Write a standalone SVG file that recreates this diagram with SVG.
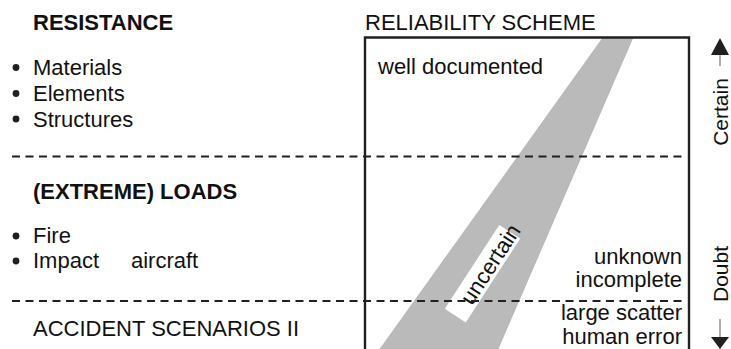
<svg xmlns="http://www.w3.org/2000/svg" width="731" height="349" viewBox="0 0 731 349">
  <style>
    text { font-family: "Liberation Sans", Arial, sans-serif; font-size: 22px; fill: #111; }
    .bold { font-weight: bold; }
    .end { text-anchor: end; }
    .axis { font-size: 21px; text-anchor: middle; }
    .bullet { fill: #231f20; }
    .divider { stroke: #231f20; stroke-width: 2; stroke-dasharray: 8 5.5; fill: none; }
    .frame { stroke: #231f20; stroke-width: 2.4; fill: none; }
    .band { fill: #bababa; stroke: #aaaaaa; stroke-width: 0.6; }
    .shaft { stroke: #777; stroke-width: 1.2; }
    .head { fill: #231f20; }
  </style>

  <!-- left column: resistance -->
  <g id="resistance">
    <text class="bold" x="33" y="30">RESISTANCE</text>
    <circle class="bullet" cx="16" cy="67.5" r="3.4"/>
    <text x="33" y="75">Materials</text>
    <circle class="bullet" cx="16" cy="93.5" r="3.4"/>
    <text x="33" y="101">Elements</text>
    <circle class="bullet" cx="16" cy="119" r="3.4"/>
    <text x="33" y="126.5">Structures</text>
  </g>

  <!-- left column: loads -->
  <g id="loads">
    <text class="bold" x="33" y="199">(EXTREME) LOADS</text>
    <circle class="bullet" cx="16" cy="236" r="3.4"/>
    <text x="33" y="243">Fire</text>
    <circle class="bullet" cx="16" cy="261" r="3.4"/>
    <text x="33" y="267.5">Impact</text>
    <text x="131" y="267.5">aircraft</text>
  </g>

  <!-- left column: accident scenarios -->
  <g id="accident">
    <text x="33" y="336">ACCIDENT SCENARIOS II</text>
  </g>

  <!-- reliability scheme frame and band -->
  <g id="scheme">
    <text x="365" y="30">RELIABILITY SCHEME</text>
    <polygon class="band" points="603,37.5 633,37.5 498,349 380,349"/>
    <path class="frame" d="M365,349 V37.5 H689 V349"/>
    <text x="378" y="74">well documented</text>
  </g>

  <g id="uncertain-label" transform="translate(482.5,273.7) rotate(-57)">
    <rect x="-50" y="-12.5" width="100" height="25" fill="#fff"/>
    <text x="-33" y="9">uncertain</text>
  </g>

  <g id="doubt-labels">
    <text class="end" x="682" y="264">unknown</text>
    <text class="end" x="682" y="287">incomplete</text>
    <text class="end" x="682" y="320">large scatter</text>
    <text class="end" x="682" y="343.5">human error</text>
  </g>

  <!-- dashed dividers between the three bands -->
  <g id="connectors">
    <line class="divider" x1="12" y1="156.5" x2="684" y2="156.5"/>
    <line class="divider" x1="12" y1="301" x2="684" y2="301"/>
  </g>

  <!-- certainty axis on the right -->
  <g id="axis">
    <line class="shaft" x1="720" y1="55" x2="720" y2="66"/>
    <polygon class="head" points="711,55 729,55 720,38"/>
    <text class="axis" transform="translate(727.5,112) rotate(-90)">Certain</text>
    <text class="axis" transform="translate(727.5,274) rotate(-90)">Doubt</text>
    <line class="shaft" x1="720" y1="319" x2="720" y2="337"/>
    <polygon class="head" points="711,337 729,337 720,349"/>
  </g>
</svg>
